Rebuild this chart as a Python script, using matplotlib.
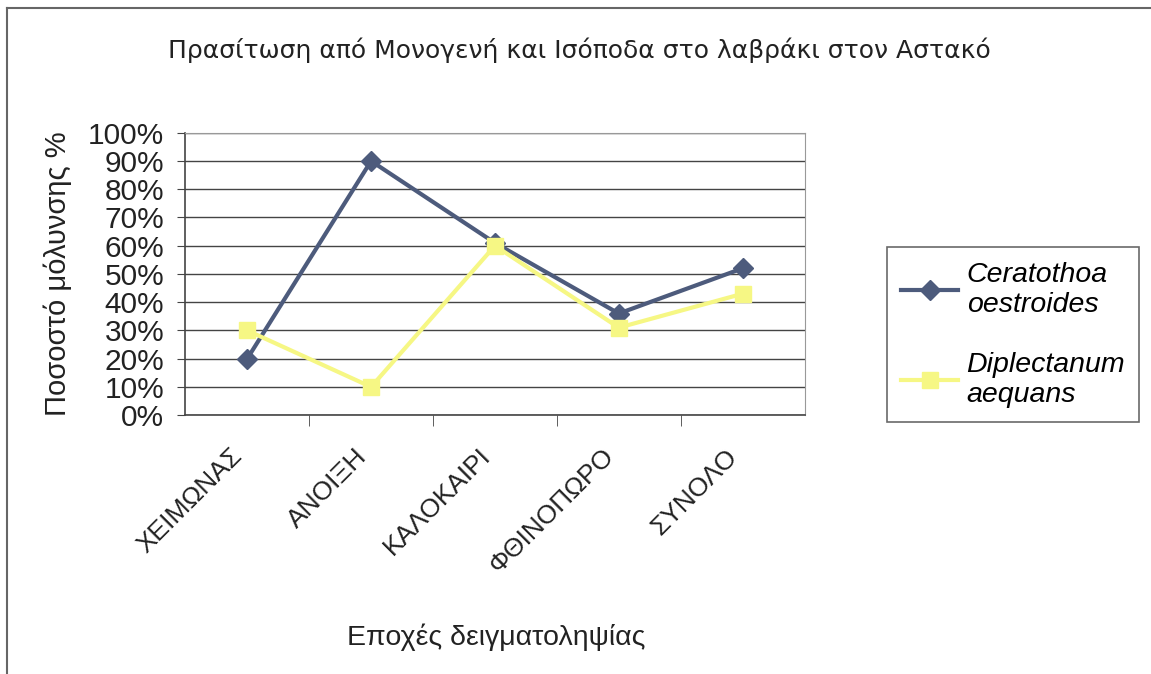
import matplotlib.pyplot as plt
from matplotlib.lines import Line2D
import numpy as np

plt.rcParams['font.family'] = ['Liberation Sans', 'DejaVu Sans']

epoxes = ['ΧΕΙΜΩΝΑΣ', 'ΑΝΟΙΞΗ', 'ΚΑΛΟΚΑΙΡΙ', 'ΦΘΙΝΟΠΩΡΟ', 'ΣΥΝΟΛΟ']
ceratothoa = [20, 90, 61, 36, 52]
diplectanum = [30, 10, 60, 31, 43]
yticks = [0, 10, 20, 30, 40, 50, 60, 70, 80, 90, 100]

fig = plt.figure(figsize=(11.51, 6.74), dpi=100)
ax = fig.add_axes([0.161, 0.384, 0.538, 0.419])

# frame of the chart (only top and left edges visible in the scan)
fig.add_artist(Line2D([0.006, 1.0], [0.988, 0.988], transform=fig.transFigure,
                      color='#666666', lw=1.5))
fig.add_artist(Line2D([0.006, 0.006], [0.0, 0.988], transform=fig.transFigure,
                      color='#666666', lw=1.5))

x = np.arange(len(epoxes))
ax.plot(x, ceratothoa, color='#4d5b7c', lw=3, marker='D', ms=10,
        label='Ceratothoa\noestroides', zorder=3)
ax.plot(x, diplectanum, color='#f6f784', lw=3, marker='s', ms=12,
        label='Diplectanum\naequans', zorder=3)

ax.set_xlim(-0.5, len(epoxes) - 0.5)
ax.set_ylim(0, 100)
ax.set_yticks(yticks)
ax.set_yticklabels([f'{v}%' for v in yticks], fontsize=21.5, color='#222222')
ax.yaxis.grid(True, color='#444444', lw=1)
ax.set_axisbelow(True)

ax.set_xticks(x)
ax.set_xticklabels(epoxes, rotation=45, ha='right', va='bottom', rotation_mode='anchor',
                   fontsize=19, color='#222222')
ax.set_xticks(np.arange(0.5, len(epoxes) - 0.5), minor=True)
ax.tick_params(axis='x', which='major', length=0, pad=33)
ax.tick_params(axis='x', which='minor', length=8, color='#444444')
ax.tick_params(axis='y', length=6, color='#444444', pad=9)

for s in ['top', 'right']:
    ax.spines[s].set_color('#999999')
for s in ['left', 'bottom']:
    ax.spines[s].set_color('#444444')
    ax.spines[s].set_linewidth(1.2)

ax.set_ylabel('Ποσοστό μόλυνσης %', fontsize=21, color='#222222', labelpad=12)
fig.text(0.431, 0.055, 'Εποχές δειγματοληψίας', ha='center', va='center',
         fontsize=20.5, color='#222222')
fig.text(0.503, 0.925, 'Πρασίτωση από Μονογενή και Ισόποδα στο λαβράκι στον Αστακό',
         ha='center', va='center', fontsize=18, color='#222222',
         family=['DejaVu Sans'])

leg = ax.legend(loc='center left', bbox_to_anchor=(1.11, 0.285),
                frameon=True, fancybox=False, edgecolor='#444444',
                prop={'style': 'italic', 'size': 20.5}, handlelength=2.0,
                handletextpad=0.3, labelspacing=1.2, borderpad=0.5)
leg.get_frame().set_linewidth(1.2)

fig.savefig('out.png', dpi=100)
